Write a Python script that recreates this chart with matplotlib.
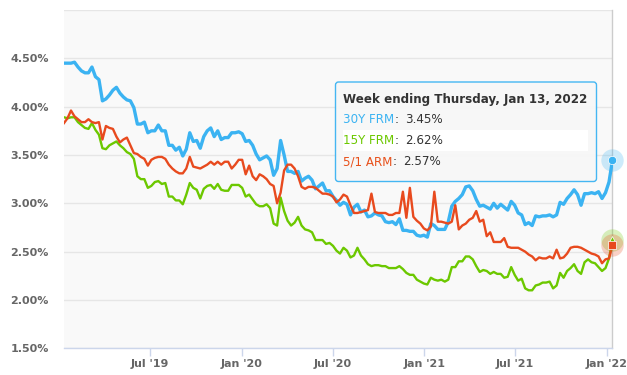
import matplotlib.pyplot as plt
import matplotlib.dates as mdates
from matplotlib.patches import FancyBboxPatch, Rectangle
import pandas as pd

# Weekly Freddie Mac PMMS rates, Jan 10 2019 .. Jan 13 2022
weeks = pd.date_range('2019-01-10', periods=158, freq='7D')

frm30 = [
    # 2019
    4.45, 4.45, 4.45, 4.46, 4.41, 4.37, 4.35, 4.35, 4.41, 4.31, 4.28, 4.06,
    4.08, 4.12, 4.17, 4.20, 4.14, 4.10, 4.07, 4.06, 3.99, 3.82, 3.82, 3.84,
    3.73, 3.75, 3.75, 3.81, 3.75, 3.75, 3.60, 3.60, 3.55, 3.58, 3.49, 3.56,
    3.73, 3.64, 3.65, 3.57, 3.69, 3.75, 3.78, 3.69, 3.75, 3.66, 3.68, 3.68,
    3.73, 3.73, 3.74,
    # 2020
    3.72, 3.64, 3.65, 3.60, 3.51, 3.45, 3.47, 3.49, 3.45, 3.29, 3.36, 3.65,
    3.50, 3.33, 3.33, 3.31, 3.33, 3.23, 3.26, 3.28, 3.24, 3.15, 3.18, 3.21,
    3.13, 3.13, 3.07, 3.03, 2.98, 3.01, 2.99, 2.88, 2.96, 2.99, 2.91, 2.93,
    2.86, 2.87, 2.90, 2.88, 2.87, 2.81, 2.80, 2.81, 2.78, 2.84, 2.72, 2.72,
    2.71, 2.71, 2.67, 2.66, 2.67,
    # 2021
    2.65, 2.79, 2.77, 2.73, 2.73, 2.73, 2.81, 2.97, 3.02, 3.05, 3.09, 3.17,
    3.18, 3.13, 3.04, 2.97, 2.98, 2.96, 2.94, 3.00, 2.95, 2.99, 2.96, 2.93,
    3.02, 2.98, 2.90, 2.88, 2.78, 2.80, 2.77, 2.87, 2.86, 2.87, 2.87, 2.88,
    2.86, 2.88, 3.01, 2.99, 3.05, 3.09, 3.14, 3.09, 2.98, 3.10, 3.10, 3.11,
    3.10, 3.12, 3.05, 3.11,
    # 2022
    3.22, 3.45,
]

frm15 = [
    # 2019
    3.89, 3.88, 3.89, 3.89, 3.84, 3.81, 3.78, 3.77, 3.83, 3.76, 3.71, 3.57,
    3.56, 3.60, 3.62, 3.64, 3.60, 3.57, 3.53, 3.51, 3.46, 3.28, 3.25, 3.25,
    3.16, 3.18, 3.22, 3.23, 3.20, 3.21, 3.07, 3.07, 3.03, 3.03, 2.99, 3.09,
    3.21, 3.16, 3.14, 3.05, 3.15, 3.18, 3.19, 3.15, 3.20, 3.14, 3.13, 3.13,
    3.19, 3.19, 3.19,
    # 2020
    3.16, 3.07, 3.09, 3.04, 2.99, 2.97, 2.97, 2.99, 2.95, 2.79, 2.77, 3.06,
    2.92, 2.82, 2.77, 2.80, 2.86, 2.77, 2.73, 2.72, 2.70, 2.62, 2.62, 2.62,
    2.58, 2.59, 2.56, 2.51, 2.48, 2.54, 2.51, 2.44, 2.46, 2.54, 2.46, 2.42,
    2.37, 2.35, 2.36, 2.36, 2.35, 2.35, 2.33, 2.33, 2.33, 2.35, 2.32, 2.28,
    2.26, 2.26, 2.21, 2.19, 2.17,
    # 2021
    2.16, 2.23, 2.21, 2.20, 2.21, 2.19, 2.21, 2.34, 2.34, 2.40, 2.40, 2.45,
    2.45, 2.42, 2.35, 2.29, 2.31, 2.30, 2.27, 2.29, 2.27, 2.27, 2.23, 2.24,
    2.34, 2.26, 2.20, 2.22, 2.12, 2.10, 2.10, 2.15, 2.16, 2.18, 2.18, 2.19,
    2.12, 2.15, 2.28, 2.23, 2.30, 2.33, 2.37, 2.30, 2.27, 2.39, 2.42, 2.39,
    2.38, 2.34, 2.30, 2.33,
    # 2022
    2.43, 2.62,
]

arm51 = [
    # 2019
    3.83, 3.88, 3.96, 3.90, 3.87, 3.84, 3.84, 3.87, 3.84, 3.83, 3.84, 3.66,
    3.80, 3.78, 3.77, 3.69, 3.63, 3.66, 3.68, 3.60, 3.52, 3.51, 3.48, 3.46,
    3.39, 3.45, 3.47, 3.48, 3.48, 3.46, 3.40, 3.36, 3.33, 3.31, 3.31, 3.36,
    3.48, 3.38, 3.37, 3.36, 3.38, 3.40, 3.43, 3.40, 3.43, 3.40, 3.43, 3.43,
    3.36, 3.40, 3.45,
    # 2020
    3.45, 3.30, 3.39, 3.28, 3.24, 3.30, 3.28, 3.25, 3.20, 3.18, 3.00, 3.11,
    3.34, 3.40, 3.40, 3.36, 3.28, 3.17, 3.15, 3.17, 3.17, 3.16, 3.13, 3.10,
    3.10, 3.09, 3.07, 3.01, 3.04, 3.09, 3.07, 2.98, 2.90, 2.90, 2.91, 2.92,
    2.93, 3.10, 2.91, 2.90, 2.90, 2.90, 2.88, 2.88, 2.90, 2.90, 3.12, 2.85,
    3.16, 2.86, 2.82, 2.79, 2.74,
    # 2021
    2.72, 2.76, 3.12, 2.81, 2.81, 2.80, 2.79, 2.81, 2.98, 2.73, 2.77, 2.79,
    2.83, 2.85, 2.92, 2.81, 2.83, 2.66, 2.70, 2.60, 2.60, 2.60, 2.64, 2.55,
    2.54, 2.54, 2.54, 2.52, 2.50, 2.47, 2.45, 2.41, 2.44, 2.43, 2.43, 2.45,
    2.43, 2.52, 2.43, 2.44, 2.48, 2.54, 2.55, 2.55, 2.54, 2.52, 2.50, 2.48,
    2.47, 2.45, 2.38, 2.42,
    # 2022
    2.43, 2.57,
]

series_names = ['30Y FRM', '15Y FRM', '5/1 ARM']
series_values = [frm30, frm15, arm51]
colors = ['#3BB3F2', '#6CC800', '#E84A1E']
text_colors = ['#3BB3F2', '#6CC800', '#E8501A']
line_widths = [2.4, 1.7, 1.7]
end_markers = ['o', '^', 's']

yticks = [1.5, 2.0, 2.5, 3.0, 3.5, 4.0, 4.5, 5.0]
xtick_dates = pd.to_datetime(['2019-07-01', '2020-01-01', '2020-07-01',
                              '2021-01-01', '2021-07-01', '2022-01-01'])
xtick_labels = ["Jul '19", "Jan '20", "Jul '20", "Jan '21", "Jul '21", "Jan '22"]
tooltip_title = 'Week ending Thursday, Jan 13, 2022'

W, H = 627, 375
fig = plt.figure(figsize=(W / 100, H / 100), dpi=100)
ax = fig.add_axes([64 / W, 1 - 348.3 / H, (612.5 - 64) / W, (348.3 - 10) / H])
ax.set_facecolor('#F9F9F9')

for vals, c, lw in zip(series_values, colors, line_widths):
    ax.plot(weeks, vals, color=c, lw=lw, solid_joinstyle='round', zorder=3)

# hover crosshair + halo markers on the last week
last = weeks[-1]
ax.axvline(last, color='#CCCCCC', lw=1, zorder=2, clip_on=False)
for vals, c, m in zip(series_values, colors, end_markers):
    ax.scatter([last], [vals[-1]], s=260, color=c, alpha=0.25, lw=0,
               zorder=4, clip_on=False)
for vals, c, m in zip(series_values, colors, end_markers):
    ax.plot([last], [vals[-1]], marker=m, ms=6, color=c, mec='white', mew=0.5,
            zorder=5, clip_on=False)

ax.set_xlim(weeks[0], last)
ax.set_ylim(1.5, 5.0)
ax.set_yticks(yticks)
ax.set_yticklabels([f'{v:.2f}%' for v in yticks[:-1]] + [''])
ax.set_xticks(xtick_dates)
ax.set_xticklabels(xtick_labels)

ax.yaxis.grid(True, color='#E6E6E6', lw=1)
ax.set_axisbelow(True)
for s in ['top', 'right', 'left']:
    ax.spines[s].set_visible(False)
ax.spines['bottom'].set_color('#CCD6EB')
ax.spines['bottom'].set_linewidth(1)
ax.spines['bottom'].set_zorder(2.5)

ax.tick_params(axis='y', length=0, pad=11, labelsize=8, labelcolor='#666666')
ax.tick_params(axis='x', length=6, width=1, color='#CCD6EB', pad=2,
               labelsize=8, labelcolor='#666666')
for lab in ax.get_xticklabels() + ax.get_yticklabels():
    lab.set_fontweight('bold')

# tooltip, drawn in pixel coordinates (y downwards)
tx0, tx1, ty0, ty1 = 333, 599, 80, 184
tip = fig.add_axes([tx0 / W, 1 - ty1 / H, (tx1 - tx0) / W, (ty1 - ty0) / H])
tip.set_xlim(tx0, tx1)
tip.set_ylim(ty1, ty0)
tip.axis('off')
tip.add_patch(FancyBboxPatch((335.5, 82), 261, 99.5,
                             boxstyle='round,pad=0,rounding_size=3',
                             fc='#F7F7F7', ec='#3BB3F2', lw=1, alpha=0.95))
tip.add_patch(Rectangle((343, 130.5), 245, 20.5, fc='white', ec='none'))
tip.text(343, 99, tooltip_title, fontsize=8.6, fontweight='bold',
         color='#333333', va='center', ha='left')

fig.canvas.draw()
inv = tip.transData.inverted()
row_y = [119.5, 141, 162]
for name, vals, c, y in zip(series_names, series_values, text_colors, row_y):
    t = tip.text(343, y, name, fontsize=8.6, color=c, va='center', ha='left')
    bb = t.get_window_extent(fig.canvas.get_renderer())
    xend = inv.transform((bb.x1, bb.y0))[0]
    tip.text(xend, y, ':', fontsize=8.6, color='#333333', va='center', ha='left')
    tip.text(xend + 11, y, f'{vals[-1]:.2f}%', fontsize=8.6, color='#333333',
             va='center', ha='left')

fig.savefig('out.png', dpi=100)
